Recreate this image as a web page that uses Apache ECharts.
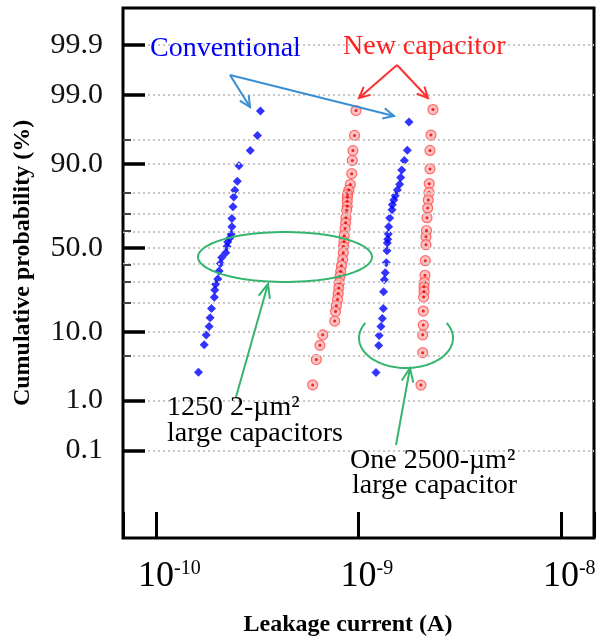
<!DOCTYPE html>
<html>
<head>
<meta charset="utf-8">
<script src="https://cdn.jsdelivr.net/npm/echarts@6/dist/echarts.min.js"></script>
<style>
html, body { margin: 0; padding: 0; background: #fff; }
#chart { width: 598px; height: 641px; }
</style>
</head>
<body>
<div id="chart"></div>
<script>
// leakage current (A) and normal quantile (sigma) of each point
let convSmallCurrent = [3.28e-10, 3.17e-10, 2.92e-10, 2.57e-10, 2.52e-10, 2.45e-10, 2.42e-10, 2.40e-10, 2.37e-10, 2.37e-10,
  2.35e-10, 2.31e-10, 2.26e-10, 2.24e-10, 2.21e-10, 2.11e-10, 2.08e-10, 2.05e-10, 2.02e-10, 1.97e-10,
  1.95e-10, 1.94e-10, 1.88e-10, 1.85e-10, 1.83e-10, 1.77e-10, 1.73e-10, 1.62e-10];
let convSmallSigma = [2.087, 1.713, 1.481, 1.252, 1.012, 0.875, 0.774, 0.626, 0.447, 0.318,
  0.206, 0.145, 0.089, 0.020, -0.075, -0.150, -0.241, -0.356, -0.478, -0.557,
  -0.646, -0.756, -0.927, -1.069, -1.202, -1.331, -1.481, -1.898];

let newSmallCurrent = [9.72e-10, 9.56e-10, 9.39e-10, 9.32e-10, 9.26e-10, 9.11e-10, 8.96e-10, 8.84e-10, 8.82e-10, 8.80e-10,
  8.80e-10, 8.74e-10, 8.67e-10, 8.64e-10, 8.58e-10, 8.51e-10, 8.48e-10, 8.43e-10, 8.41e-10, 8.36e-10,
  8.24e-10, 8.17e-10, 8.10e-10, 8.04e-10, 7.99e-10, 7.94e-10, 7.88e-10, 7.77e-10, 7.70e-10, 7.63e-10,
  6.66e-10, 6.45e-10, 6.19e-10, 5.94e-10];
let newSmallSigma = [2.092, 1.713, 1.481, 1.331, 1.130, 0.966, 0.879, 0.817, 0.771, 0.707,
  0.631, 0.573, 0.458, 0.382, 0.293, 0.183, 0.092, 0.020, -0.076, -0.179,
  -0.275, -0.362, -0.438, -0.534, -0.615, -0.698, -0.789, -0.885, -0.973, -1.119,
  -1.328, -1.489, -1.705, -2.092];

let convLargeCurrent = [1.776e-9, 1.742e-9, 1.684e-9, 1.635e-9, 1.616e-9, 1.596e-9, 1.555e-9, 1.519e-9, 1.494e-9, 1.469e-9,
  1.464e-9, 1.426e-9, 1.410e-9, 1.404e-9, 1.394e-9, 1.388e-9, 1.383e-9, 1.372e-9, 1.356e-9, 1.341e-9,
  1.330e-9, 1.326e-9, 1.311e-9, 1.291e-9, 1.265e-9, 1.258e-9, 1.220e-9];
let convLargeSigma = [1.916, 1.485, 1.331, 1.186, 1.072, 0.968, 0.879, 0.794, 0.728, 0.656,
  0.580, 0.453, 0.318, 0.211, 0.130, 0.072, -0.046, -0.229, -0.382, -0.489,
  -0.672, -0.927, -1.079, -1.202, -1.339, -1.493, -1.904];

let newLargeCurrent = [2.333e-9, 2.280e-9, 2.255e-9, 2.255e-9, 2.236e-9, 2.229e-9, 2.211e-9, 2.196e-9, 2.179e-9, 2.167e-9,
  2.154e-9, 2.154e-9, 2.138e-9, 2.130e-9, 2.118e-9, 2.106e-9, 2.106e-9, 2.097e-9, 2.089e-9, 2.089e-9,
  2.075e-9, 2.075e-9, 2.035e-9];
let newLargeSigma = [2.107, 1.718, 1.484, 1.202, 0.977, 0.844, 0.728, 0.606, 0.458, 0.263,
  0.168, 0.046, -0.198, -0.420, -0.527, -0.595, -0.667, -0.753, -0.966, -1.180,
  -1.328, -1.600, -2.095];

// probability axis
let yTickPercents = [0.1, 1, 10, 50, 90, 99, 99.9];
let yTickLabels = ['0.1', '1.0', '10.0', '50.0', '90.0', '99.0', '99.9'];
let gridPercents = [0.1, 1, 5, 10, 20, 30, 40, 50, 60, 70, 80, 90, 95, 99, 99.9];

// inverse normal cdf (Acklam)
function probit(p) {
  const a = [-39.69683028665376, 220.9460984245205, -275.9285104469687, 138.3577518672690, -30.66479806614716, 2.506628277459239];
  const b = [-54.47609879822406, 161.5858368580409, -155.6989798598866, 66.80131188771972, -13.28068155288572];
  const c = [-0.007784894002430293, -0.3223964580411365, -2.400758277161838, -2.549732539343734, 4.374664141464968, 2.938163982698783];
  const d = [0.007784695709041462, 0.3224671290700398, 2.445134137142996, 3.754408661907416];
  const pl = 0.02425;
  let q, r;
  if (p < pl) {
    q = Math.sqrt(-2 * Math.log(p));
    return (((((c[0] * q + c[1]) * q + c[2]) * q + c[3]) * q + c[4]) * q + c[5]) / ((((d[0] * q + d[1]) * q + d[2]) * q + d[3]) * q + 1);
  }
  if (p > 1 - pl) {
    q = Math.sqrt(-2 * Math.log(1 - p));
    return -(((((c[0] * q + c[1]) * q + c[2]) * q + c[3]) * q + c[4]) * q + c[5]) / ((((d[0] * q + d[1]) * q + d[2]) * q + d[3]) * q + 1);
  }
  q = p - 0.5;
  r = q * q;
  return (((((a[0] * r + a[1]) * r + a[2]) * r + a[3]) * r + a[4]) * r + a[5]) * q / (((((b[0] * r + b[1]) * r + b[2]) * r + b[3]) * r + b[4]) * r + 1);
}

const yTickSigma = yTickPercents.map(p => probit(p / 100));
const gridSigma = gridPercents.map(p => probit(p / 100));
const serif = '"Liberation Serif", "Times New Roman", serif';
const green = '#35b56e';

function labelFor(v) {
  let best = 0;
  yTickSigma.forEach((s, i) => {
    if (Math.abs(s - v) < Math.abs(yTickSigma[best] - v)) best = i;
  });
  return yTickLabels[best];
}

function pairs(xs, ys) {
  return xs.map((x, i) => [x, ys[i]]);
}

// annotation helpers
function arrow(x1, y1, x2, y2, color, h, spread) {
  const ang = Math.atan2(y2 - y1, x2 - x1);
  h = h || 12;
  spread = spread || 0.45;
  return [
    { type: 'line', z: 10, shape: { x1: x1, y1: y1, x2: x2, y2: y2 }, style: { stroke: color, lineWidth: 2 } },
    {
      type: 'polyline', z: 10,
      shape: {
        points: [
          [x2 - h * Math.cos(ang - spread), y2 - h * Math.sin(ang - spread)],
          [x2, y2],
          [x2 - h * Math.cos(ang + spread), y2 - h * Math.sin(ang + spread)]
        ]
      },
      style: { stroke: color, lineWidth: 2, fill: null }
    }
  ];
}

function ellipsePts(cx, cy, rx, ry, a0, a1) {
  const pts = [];
  for (let t = a0; t <= a1; t += 4) {
    const r = t * Math.PI / 180;
    pts.push([cx + rx * Math.cos(r), cy + ry * Math.sin(r)]);
  }
  return pts;
}

function note(x, y, text, color) {
  return {
    type: 'text', z: 10, x: x, y: y,
    style: { text: text, fill: color, fontFamily: serif, fontSize: 28, align: 'left', verticalAlign: 'middle' }
  };
}

const chart = echarts.init(document.getElementById('chart'));

const blueItem = { color: '#0000ff' };
const ringItem = { color: '#ffb0b0', borderColor: '#ff4d4d', borderWidth: 1.2 };
const dotItem = { color: '#e00000' };

const option = {
  animation: false,
  backgroundColor: '#fff',
  grid: { left: 123, top: 8, right: 4, bottom: 103, show: true, borderColor: '#000', borderWidth: 3, outerBoundsMode: 'none' },
  xAxis: {
    type: 'log',
    logBase: 10,
    min: 6.87e-11,
    max: 1.456e-8,
    z: 10,
    name: 'Leakage current (A)',
    nameLocation: 'middle',
    nameGap: 75,
    nameTextStyle: { fontFamily: serif, fontWeight: 'bold', fontSize: 24, color: '#000', padding: [0, 21, 0, 0] },
    axisLine: { show: false, onZero: false },
    axisTick: { inside: true, length: 26, lineStyle: { color: '#000', width: 3 } },
    axisLabel: {
      margin: 21,
      formatter: function (v) {
        const e = Math.log10(v);
        if (Math.abs(e - Math.round(e)) > 1e-6) return '';
        const s = String(Math.round(e));
        return '{sp|' + s + '}{b|10}{s|' + s + '}';
      },
      rich: {
        sp: { fontFamily: serif, fontSize: 20, color: 'transparent', verticalAlign: 'top' },
        b: { fontFamily: serif, fontSize: 36, color: '#000' },
        s: { fontFamily: serif, fontSize: 20, color: '#000', verticalAlign: 'top' }
      }
    },
    splitLine: { show: false },
    minorTick: { show: false }
  },
  yAxis: [
    {
      type: 'value',
      min: -4.427,
      max: 3.656,
      z: 10,
      name: 'Cumulative probability (%)',
      nameLocation: 'middle',
      nameGap: 88,
      nameTextStyle: { fontFamily: serif, fontWeight: 'bold', fontSize: 24, color: '#000', padding: [0, 0, 0, 20] },
      axisLine: { show: false, onZero: false },
      axisTick: { show: true, inside: true, length: 22, customValues: yTickSigma, lineStyle: { color: '#000', width: 3.5 } },
      axisLabel: { customValues: yTickSigma, margin: 20, fontFamily: serif, fontSize: 30, color: '#111', formatter: labelFor },
      splitLine: { show: false }
    },
    {
      type: 'value',
      position: 'left',
      offset: 0,
      min: -4.427,
      max: 3.656,
      z: 9,
      axisLine: { show: false, onZero: false },
      axisTick: { show: true, inside: true, length: 8, customValues: gridSigma, lineStyle: { color: '#444', width: 2 } },
      axisLabel: { show: false },
      splitLine: { show: false }
    }
  ],
  series: [
    {
      type: 'scatter',
      data: [],
      z: 1,
      silent: true,
      markLine: {
        silent: true,
        symbol: ['none', 'none'],
        label: { show: false },
        emphasis: { disabled: true },
        lineStyle: { color: '#c8c8c8', width: 2, type: [2, 3] },
        data: gridSigma.map(s => ({ yAxis: s }))
      }
    },
    { type: 'scatter', name: 'Conventional 1250', symbol: 'diamond', symbolSize: 9, itemStyle: blueItem, z: 3, data: pairs(convSmallCurrent, convSmallSigma) },
    { type: 'scatter', name: 'Conventional 1', symbol: 'diamond', symbolSize: 9, itemStyle: blueItem, z: 3, data: pairs(convLargeCurrent, convLargeSigma) },
    { type: 'scatter', name: 'New 1250', symbol: 'circle', symbolSize: 10, itemStyle: ringItem, z: 3, data: pairs(newSmallCurrent, newSmallSigma) },
    { type: 'scatter', name: 'New 1250 c', symbol: 'circle', symbolSize: 3, itemStyle: dotItem, z: 4, data: pairs(newSmallCurrent, newSmallSigma) },
    { type: 'scatter', name: 'New 1', symbol: 'circle', symbolSize: 10, itemStyle: ringItem, z: 3, data: pairs(newLargeCurrent, newLargeSigma) },
    { type: 'scatter', name: 'New 1 c', symbol: 'circle', symbolSize: 3, itemStyle: dotItem, z: 4, data: pairs(newLargeCurrent, newLargeSigma) }
  ],
  graphic: [].concat(
    arrow(230, 75, 250, 107, '#3a8fd4'),
    arrow(230, 75, 394, 116, '#3a8fd4'),
    arrow(397, 65, 359, 98, '#ff3030'),
    arrow(397, 65, 428, 98, '#ff3030'),
    [
      { type: 'polyline', z: 10, shape: { points: ellipsePts(285, 257, 87, 25, 0, 360) }, style: { stroke: green, lineWidth: 2, fill: null } },
      { type: 'polyline', z: 10, shape: { points: ellipsePts(406, 338, 47, 30, -30, 210) }, style: { stroke: green, lineWidth: 2, fill: null } }
    ],
    arrow(236, 397, 268, 284, green, 15, 0.4),
    arrow(396, 445, 410, 368, green, 15, 0.4),
    [
      note(150, 49, 'Conventional', '#0000ff'),
      note(343, 47, 'New capacitor', '#ff2020'),
      note(167, 408, '1250 2-\u00b5m\u00b2', '#000'),
      note(167, 434, 'large capacitors', '#000'),
      note(350, 461, 'One 2500-\u00b5m\u00b2', '#000'),
      note(352, 486, 'large capacitor', '#000')
    ]
  )
};

chart.setOption(option);
</script>
</body>
</html>
